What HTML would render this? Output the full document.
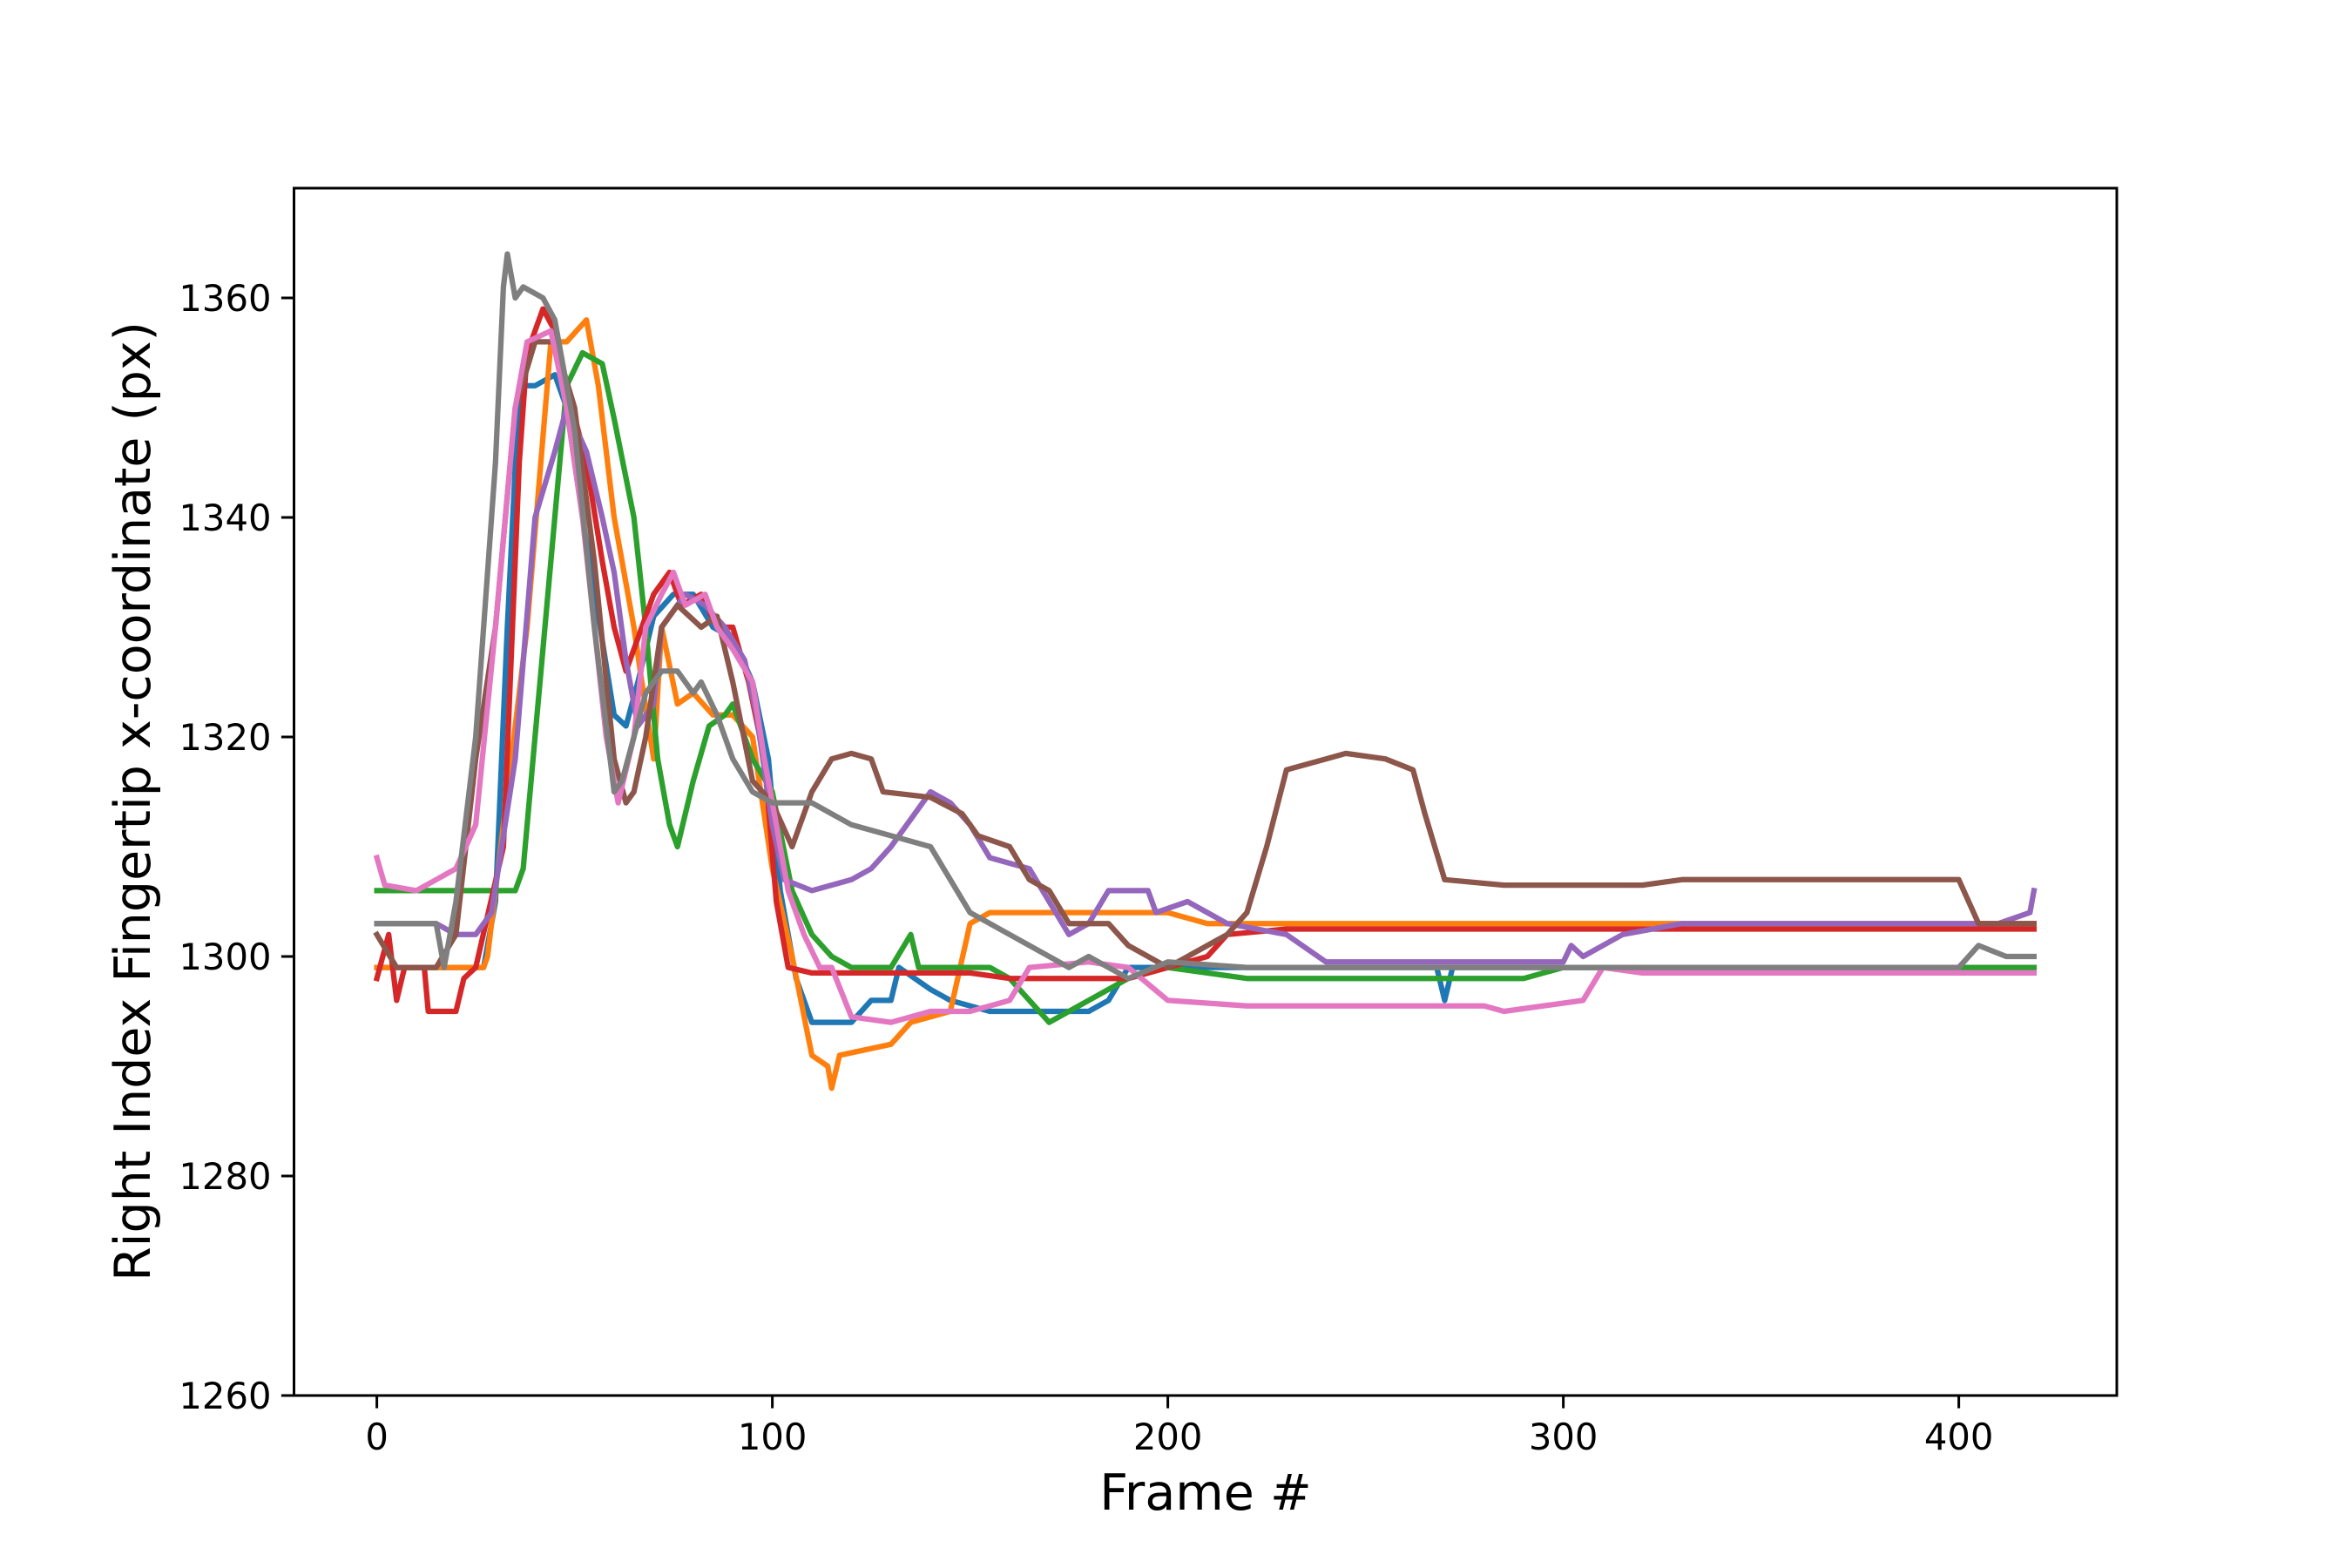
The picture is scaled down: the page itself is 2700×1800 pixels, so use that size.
<!DOCTYPE html>
<html><head><meta charset="utf-8"><style>
html,body{margin:0;padding:0;background:#fff;}
svg{display:block;font-family:"DejaVu Sans","Liberation Sans",sans-serif;}
</style></head><body>
<svg id="chart" width="2700" height="1800" viewBox="0 0 2700 1800" xmlns="http://www.w3.org/2000/svg">
<rect width="2700" height="1800" fill="#fff"/>
<g id="plot"></g>
<rect x="337.5" y="216" width="2092.5" height="1386" fill="none" stroke="#000" stroke-width="3"/>
<g id="ticks"></g>
<text x="1384" y="1733" font-size="57" text-anchor="middle">Frame #</text>
<text x="0" y="0" font-size="57" text-anchor="middle" transform="translate(172,920) rotate(-90)">Right Index Fingertip x-coordinate (px)</text>
</svg>
<script>
const xTicks=[0,100,200,300,400];
const yTicks=[1260,1280,1300,1320,1340,1360];
const seriesNames=['series-0','series-1','series-2','series-3','series-4','series-5','series-6','series-7'];
const seriesColors=['#1f77b4','#ff7f0e','#2ca02c','#d62728','#9467bd','#8c564b','#e377c2','#7f7f7f'];
const f0=[0,27,30,33,36,40,45,48,52,56,60,63,66,70,75,80,85,90,95,99,102,106,110,120,125,130,132,140,145,155,175,180,185,190,200,268,270,272,419];
const v0=[1299,1299,1305,1330,1352,1352,1353,1350,1340,1331,1322,1321,1325,1331,1333,1333,1330,1329,1325,1318,1306,1298,1294,1294,1296,1296,1299,1297,1296,1295,1295,1295,1296,1299,1299,1299,1296,1299,1299];
const f1=[0,27,28,33,38,44,48,53,56,60,65,67,70,72,76,80,85,90,95,100,105,110,114,115,117,130,135,145,150,155,200,210,419];
const v1=[1299,1299,1300,1315,1330,1356,1356,1358,1352,1340,1330,1325,1318,1330,1323,1324,1322,1322,1320,1308,1300,1291,1290,1288,1291,1292,1294,1295,1303,1304,1304,1303,1303];
const f2=[0,35,37,40,45,48,52,57,60,65,68,71,74,76,80,84,88,90,95,100,105,110,115,120,130,135,137,155,160,165,170,180,190,200,220,290,300,419];
const v2=[1306,1306,1308,1320,1340,1352,1355,1354,1349,1340,1330,1318,1312,1310,1316,1321,1322,1323,1318,1315,1306,1302,1300,1299,1299,1302,1299,1299,1298,1296,1294,1296,1298,1299,1298,1298,1299,1299];
const f3=[0,3,5,7,12,13,20,22,25,32,36,38,42,45,48,53,57,60,63,66,70,74,77,82,86,90,94,98,101,104,110,150,160,185,190,200,210,215,230,419];
const v3=[1298,1302,1296,1299,1299,1295,1295,1298,1299,1310,1345,1355,1359,1357,1352,1345,1336,1330,1326,1329,1333,1335,1332,1333,1330,1330,1325,1318,1305,1299,1298.5,1298.5,1298,1298,1298,1299,1300,1302,1302.5,1302.5];
const f4=[0,15,20,25,29,35,40,45,48,53,57,60,63,66,70,72,78,83,88,93,96,100,103,110,120,125,130,140,145,150,155,165,170,175,180,185,195,197,205,215,230,240,300,302,305,315,330,410,418,419];
const v4=[1303,1303,1302,1302,1304,1318,1340,1346,1350,1346,1340,1335,1327,1321,1323,1330,1333,1332,1330,1327,1322,1312,1307,1306,1307,1308,1310,1315,1314,1312,1309,1308,1305,1302,1303,1306,1306,1304,1305,1303,1302,1299.5,1299.5,1301,1300,1302,1303,1303,1304,1306];
const f5=[0,5,15,20,25,30,35,40,45,50,55,60,63,65,68,72,76,82,86,90,95,100,105,110,115,120,125,128,140,148,152,160,165,170,175,185,190,200,215,220,225,230,240,245,255,262,265,270,285,320,330,400,405,419];
const v5=[1302,1299,1299,1302,1318,1330,1350,1356,1356,1350,1336,1318,1314,1315,1320,1330,1332,1330,1331,1325,1316,1314,1310,1315,1318,1318.5,1318,1315,1314.5,1313,1311,1310,1307,1306,1303,1303,1301,1299,1302,1304,1310,1317,1318,1318.5,1318,1317,1313,1307,1306.5,1306.5,1307,1307,1303,1303];
const f6=[0,2,10,15,20,25,30,35,38,44,48,52,55,58,61,65,68,72,75,78,83,86,90,95,98,101,104,108,112,115,120,130,140,150,160,165,180,190,200,220,280,285,305,310,320,419];
const v6=[1309,1306.5,1306,1307,1308,1312,1330,1350,1356,1357,1350,1340,1330,1320,1314,1320,1330,1333,1335,1332,1333,1330,1328,1325,1318,1312,1306,1302,1299,1299,1294.5,1294,1295,1295,1296,1299,1299.5,1299,1296,1295.5,1295.5,1295,1296,1299,1298.5,1298.5];
const f7=[0,15,17,20,25,30,32,33,35,37,42,45,50,55,60,62,65,68,72,76,80,82,86,90,95,100,110,120,130,140,150,160,170,175,180,190,200,220,400,405,412,419];
const v7=[1303,1303,1299,1305,1320,1345,1361,1364,1360,1361,1360,1358,1348,1330,1315,1316,1320,1324,1326,1326,1324,1325,1322,1318,1315,1314,1314,1312,1311,1310,1304,1302,1300,1299,1300,1298,1299.5,1299,1299,1301,1300,1300];
const frames=[f0,f1,f2,f3,f4,f5,f6,f7];
const values=[v0,v1,v2,v3,v4,v5,v6,v7];

const NS='http://www.w3.org/2000/svg';
const X0=337.5,X1=2430,Y0=1602,Y1=216,XMIN=-20.95,XMAX=439.95,YMIN=1260,YMAX=1370;
function xs(v){return X0+(v-XMIN)/(XMAX-XMIN)*(X1-X0);}
function ys(v){return Y0-(v-YMIN)/(YMAX-YMIN)*(Y0-Y1);}
const plot=document.getElementById('plot');
for(let s=0;s<frames.length;s++){
  const p=document.createElementNS(NS,'polyline');
  p.setAttribute('points',frames[s].map((f,i)=>xs(f).toFixed(1)+','+ys(values[s][i]).toFixed(1)).join(' '));
  p.setAttribute('fill','none');p.setAttribute('stroke',seriesColors[s]);
  p.setAttribute('stroke-width','6.25');p.setAttribute('stroke-linejoin','round');p.setAttribute('stroke-linecap','square');
  
  
  plot.appendChild(p);
}
const tg=document.getElementById('ticks');
xTicks.forEach(t=>{
  const l=document.createElementNS(NS,'line');
  l.setAttribute('x1',xs(t));l.setAttribute('x2',xs(t));l.setAttribute('y1',Y0);l.setAttribute('y2',Y0+14.6);
  l.setAttribute('stroke','#000');l.setAttribute('stroke-width','3');
  
  
  tg.appendChild(l);
  const tx=document.createElementNS(NS,'text');
  tx.setAttribute('x',xs(t));tx.setAttribute('y',Y0+62);tx.setAttribute('font-size','41.7');tx.setAttribute('text-anchor','middle');
  tx.textContent=t;
  
  
  tg.appendChild(tx);
});
yTicks.forEach(t=>{
  const l=document.createElementNS(NS,'line');
  l.setAttribute('x1',X0-14.6);l.setAttribute('x2',X0);l.setAttribute('y1',ys(t));l.setAttribute('y2',ys(t));
  l.setAttribute('stroke','#000');l.setAttribute('stroke-width','3');
  
  
  tg.appendChild(l);
  const tx=document.createElementNS(NS,'text');
  tx.setAttribute('x',X0-26);tx.setAttribute('y',ys(t)+15);tx.setAttribute('font-size','41.7');tx.setAttribute('text-anchor','end');
  tx.textContent=t;
  
  
  tg.appendChild(tx);
});
</script>
</body></html>
